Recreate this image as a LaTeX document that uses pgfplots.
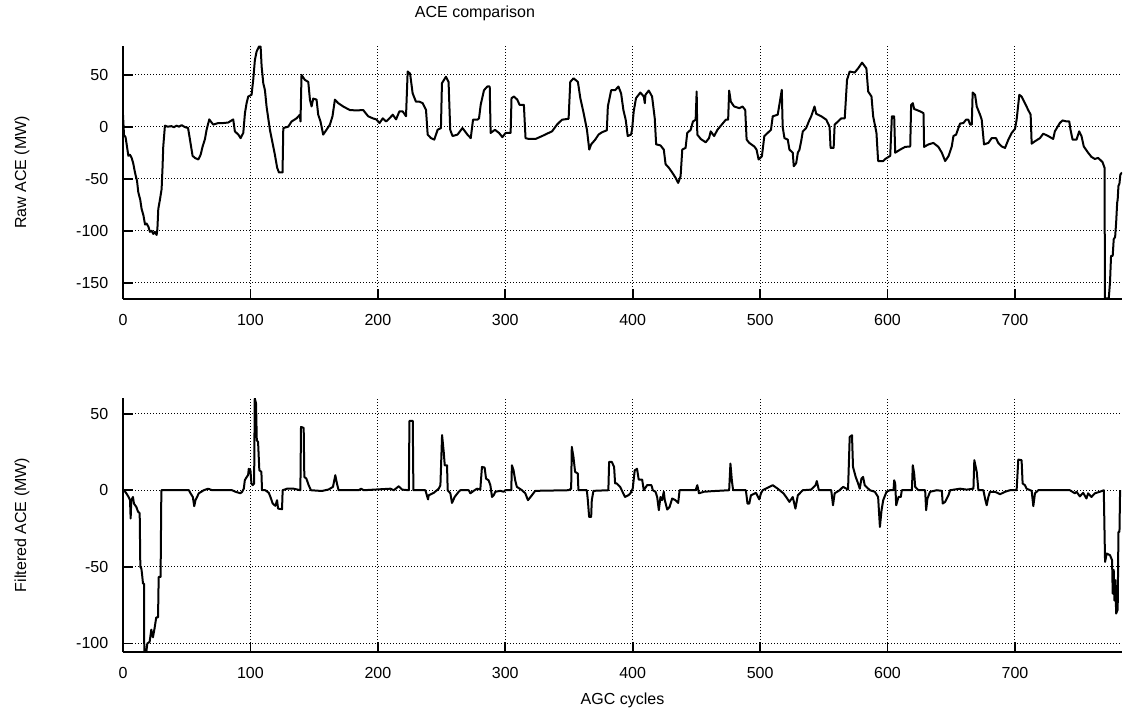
\documentclass[border=0pt]{standalone}
\usepackage{fontspec}
\setmainfont{Liberation Sans}
\usepackage{pgfplots}
\pgfplotsset{compat=1.18}

% raw and filtered ACE
\pgfplotsset{
  aceaxis/.style={
    scale only axis, width=499.5pt,
    xmin=0, xmax=784,
    xtick={0,100,...,700},
    axis x line*=bottom, axis y line*=left,
    axis line style={line width=1pt, black},
    tick align=inside, major tick length=5pt,
    tick style={line width=0.9pt, black},
    grid=major,
    grid style={black, line width=0.5pt, dash pattern=on 0.5pt off 1pt},
    /pgf/number format/assume math mode=true,
    xticklabel style={yshift=-5pt},
    yticklabel style={xshift=-4.5pt},
    ylabel style={at={(axis description cs:-0.1011,0.5)}, anchor=center},
  },
  aceline/.style={black, line width=1pt, line join=round, mark=none},
}

\begin{document}
\fontsize{8}{9.6}\selectfont
\begin{tikzpicture}
\useasboundingbox (0pt,0pt) rectangle (561.5pt,-357.5pt);

\begin{axis}[aceaxis, at={(61.5pt,-149.5pt)}, anchor=south west,
    height=126.5pt, ymin=-165.5, ymax=77.5,
    ytick={-150,-100,-50,0,50},
    ylabel={Raw ACE (MW)}]
\addplot[aceline] coordinates {
(0,11) (0.8,-8) (2,-10) (3,-18) (4.2,-28) (5.5,-27) (6.8,-30) (8,-35) (9.4,-44)
(11,-52) (12,-63) (13.5,-70) (14.6,-79) (16,-85) (17.3,-94) (18.5,-93) (19.9,-96)
(21.2,-101) (22.5,-100) (23.8,-103) (25,-101) (26.4,-104) (27,-98) (27.7,-79)
(29,-70) (30.3,-60) (31,-40) (31.6,-19) (32.9,1) (35,0) (38,0.5) (40,-0.5) (42,1)
(44,0) (46,1.5) (48,0) (50,-1) (51,-1)
(52.5,-12) (54.6,-28) (56.5,-30) (59.1,-31.5) (60.9,-27) (62.5,-19) (64.3,-12)
(65.6,-3) (67.7,7) (70.8,2) (74.8,3.5) (78.7,3.5) (82.6,4) (86.5,7) (87.8,-4.5)
(90.5,-7.6) (92.3,-11) (94.4,-6) (95.7,13) (97,22.6) (98.3,29) (100.9,30.6)
(102.2,45) (103.5,64) (104.8,72) (106.7,77) (108,77) (108.8,57.7) (110.1,41.7)
(111.4,35) (112.7,19) (115.3,-3) (117.9,-19) (119.2,-27) (121,-39.5) (122.4,-44)
(125.2,-44) (125.8,-1.3) (129.7,0) (132.3,5) (136.2,8) (138.8,11.5) (139.3,5)
(140.1,49.7) (142.7,45) (145.4,43) (146.7,26) (148,19.4) (149.3,27) (151.9,26)
(153.2,11.5) (155,5) (157.1,-7.6) (159.7,-3) (162.4,2) (164.4,10) (166.3,26)
(168.9,22.6) (172.8,19.4) (178,16) (183.3,15.6) (188.5,16) (192.4,10)
(196.1,8) (198.7,7) (201.3,3.5) (203.9,8) (206.5,5) (209.1,8) (211.7,11.5)
(214.3,7) (216.9,14.7) (219.5,14.7) (222.1,10) (223.4,53) (225.3,51) (227.3,32)
(229.9,24) (232.6,24) (235.2,22.6) (237.8,16) (239.1,-7.6) (241.7,-11)
(244.3,-12.4) (246.9,-3) (249.5,-1.3) (250.3,41.7) (253.4,48) (255.5,43)
(256.8,-3) (258.6,-9) (262.5,-7.6) (266.4,-1.3) (270.3,-7.6) (272.9,-11)
(274.7,6.7) (278.1,6.7) (279.4,8) (280.7,21) (283.3,35) (285.9,38.6) (287.8,38.6)
(288.5,-6) (291.9,-3) (295.1,-6) (297.7,-10) (300.3,-6) (304.2,-6) (304.9,27.4)
(306.8,29) (309.4,26) (311.2,21) (314.6,21) (315.9,-11) (318.5,-11.8)
(323.7,-11.8) (328.9,-9) (332.8,-6.7) (336.7,-4.5) (340.6,2) (344.5,6.7)
(349.7,7.6) (351,43) (353.6,46.5) (357,43) (358.9,27.4) (361.5,13) (364.1,-3)
(365.9,-22) (367.4,-17) (370.6,-12.4) (373.2,-7.6) (375.8,-5.4) (379.7,-3.5)
(380.5,19.4) (383.1,35) (386.2,35) (388.8,38.6) (390.9,32) (392.7,16) (394.5,6.7)
(396.1,-9) (398.7,-7.6)
(399.5,-3) (400.8,14.7) (402.6,27.4) (406,32.8) (408.7,29) (409.5,22.6) (410,30.6)
(412.6,34.7) (415.2,29) (417.3,8) (418.4,-17) (421.8,-18) (424.4,-22) (425.8,-36)
(428.4,-39.5) (431,-44) (433.6,-49) (435.7,-54) (437.6,-47.5) (438.9,-22)
(441.5,-20.4) (442.8,-6) (445.5,-3) (447.3,5) (449.4,6.7) (450.2,33.8)
(450.7,-7.6) (453.4,-11.8) (457.3,-15) (459.9,-11) (461.2,-4.5) (463.9,-9)
(466.5,-3) (469.9,2) (473.1,6.7) (474.9,6.7) (475.7,34.7) (477,24) (479.6,19.4)
(483.6,17.8) (486.2,19.4) (488.3,16) (489.4,-12.4) (491.5,-15.6) (495.4,-19)
(497.2,-22) (498.8,-31.5) (501.4,-28.4) (503.3,-9) (505.9,-6) (508.5,-3)
(509.9,10) (513.8,11.5) (515.1,21) (517,35.4) (517.7,-0.3) (519.1,-11)
(521.7,-12.4) (523,-22) (525.6,-25) (526.4,-38) (528.3,-35) (529.6,-25)
(530.9,-22) (532.2,-14) (533.5,-4.5) (536.1,-1.3) (538.8,6.7) (540.1,10)
(542.7,19.4) (544,12.4) (548,10) (551.9,6.7) (554.5,0) (555.3,-20.4)
(557.7,-20.4) (558.5,2) (561.1,5) (563.7,8) (566.4,8) (568.2,45) (570.3,53)
(574.2,52) (576.9,56) (580,61.5) (583.4,56) (584.8,33.8) (587.4,29) (588.7,10)
(591.3,-6) (592.6,-33) (596.6,-33)
(598.2,-31) (602.1,-28) (603.4,10) (605.2,10) (606,-25) (609.9,-22)
(613.8,-19.4) (617.8,-19) (618.5,21) (619.8,22.6) (620.9,17) (625.6,14.7)
(628.2,13) (628.7,-19.4) (632.1,-17) (636,-15.6) (639.9,-19.4) (642.6,-25)
(645.2,-33) (647.8,-28.4) (650.4,-19) (651.7,-9) (653.8,-7.6) (655.6,-1.3)
(656.9,3) (659.5,3.5) (661.6,6.7) (663.4,6.7) (664.8,2) (666.1,2) (666.8,32.8)
(668.7,30.6) (670,19.4) (672.6,11.5) (673.9,6.7) (675.7,-17) (679.1,-15.6)
(681.7,-11) (685.1,-11) (686.9,-15.6) (689.6,-19) (692.2,-20.4) (694.8,-12.4)
(697.4,-6) (700,-2.2) (701.3,6.7) (703.4,30.6) (705.2,29) (707.8,22.6)
(710.4,16) (712.3,11.5) (713.1,-16.3) (715.7,-14) (719.6,-11) (722.2,-6.7)
(726.1,-9) (730,-11.8) (731.3,-4.5) (735.2,3.5) (737.3,6) (740.5,5) (742.6,5)
(743.6,-3) (745.2,-12.4) (748.3,-12.4) (750.4,-4.5) (752.2,-9) (754,-19)
(757.4,-25) (760,-29) (762.7,-31) (765.3,-30) (768.7,-34) (770.3,-39.5)
(770.6,-165) (773.6,-165) (774.6,-149) (775.4,-124) (776.7,-124) (777.5,-108)
(778.6,-106) (779.4,-92) (780.2,-73) (780.6,-70) (781.2,-57) (782,-54.5)
(782.7,-46) (784,-44)
};
\end{axis}

\begin{axis}[aceaxis, at={(61.5pt,-326pt)}, anchor=south west,
    height=127pt, ymin=-105.6, ymax=60.2,
    ytick={-100,-50,0,50},
    ylabel={Filtered ACE (MW)},
    xlabel={AGC cycles},
    xlabel style={at={(axis description cs:0.5,-0.189)}, anchor=center}]
\addplot[aceline] coordinates {
(0,0) (0.8,0) (2.6,-2) (4.4,-4.4) (5.5,-6.5) (6,-18.5) (6.5,-6.5) (7.8,-4.4)
(8.6,-8.7) (10.5,-11) (11.8,-14) (13.1,-15) (13.6,-50) (14.4,-51) (14.9,-54.4)
(15.7,-61) (16.5,-61) (16.7,-105.6) (18.3,-105.6) (19.1,-100) (20.9,-99)
(22.2,-91) (23.5,-96) (24.8,-90) (26.1,-83) (27.5,-83) (28,-56.6) (29.5,-56.6)
(30.1,0) (51.7,0) (53,-2) (54.8,-4.4) (55.9,-10.4) (56.9,-6.5) (59.5,-2)
(63.4,0) (66.8,1) (70,0) (85.6,0) (88.3,-1) (92.2,-2) (93.5,-1) (94.8,1)
(95.6,6.5) (96.6,8) (98.2,10) (98.7,14) (100,13) (100.8,4.4) (101.8,3.3)
(102.9,4.4) (103.4,60) (104.4,56.6) (105,32.6) (106,31.5) (107,13) (108.6,12)
(109.1,0) (111.7,0) (114.4,-1.7) (115.7,-4.4) (117.5,-8.7) (119.6,-10.2)
(120.9,-6.5) (121.7,-12) (124.8,-12.4) (125.3,0) (128.7,1) (133.9,1) (139.2,0)
(139.7,41.3) (141.8,40.7) (142.3,8.7) (143.9,7.6) (145.7,3.3) (147.5,0)
(156.1,-0.5) (161.4,0.5) (164.8,2.2) (166.6,9.8) (167.9,4.4) (169.2,0)
(184.9,0) (186.9,1) (188.8,0)
(209.9,1) (212.5,0) (216.4,2.6) (219.1,0.4) (224.3,0) (224.8,45.3) (227.4,45.3)
(227.9,0) (237.3,0) (239.4,-6) (239.9,-3.3) (243.9,-1.7) (247.8,1) (249.1,3.3)
(250.4,36) (251.7,25) (252.5,16.3) (254.3,16.3) (254.8,0) (256.9,-2)
(258.2,-8.3) (260.3,-4.4) (263.4,-1) (264.8,0) (271.3,0) (272.6,-2)
(275.2,-0.4) (277.8,1) (280.4,0.4) (281.7,15.2) (283.8,14.8) (284.9,7.6)
(286.9,6.5) (288.3,3.3) (289.6,-4.4) (290.9,-3.3) (292.2,-1) (296.1,-0.4)
(298.7,-1) (300,0) (304.7,0) (305.2,16.3) (306.5,13) (307.8,6.5) (309.1,2.2)
(313.1,0) (315.7,-2) (317.8,-6.5) (320.9,-3.3) (323.5,-0.4) (349.6,0)
(351.7,1) (352.2,28.3) (353.5,21.8) (354.8,12) (356.9,10.9) (357.4,0) (364,0)
(364.8,-6.5) (365.8,-17.4) (367.4,-17.4) (367.9,-6.5) (369.2,-0.4) (380.9,0)
(381.5,18.5) (383.6,18.5) (385.4,15.2) (386.2,4.4) (387.5,4.4) (390.1,2.2)
(391.4,0) (394,-4.4) (396.6,-3.3)
(398.2,-2) (400,1) (401.6,13) (403.4,14) (404.7,7) (407.4,7) (408.7,0)
(411.3,3.3) (414.7,3.3) (415.8,0) (417.9,-1) (419.2,-4.4) (420.5,-13)
(421.8,-4.4) (423.1,-6.5) (424.4,-1) (425.2,-6.5) (427.1,-12.6) (428.9,-11)
(431,-5.4) (433.6,-6.5) (435.7,-8.3) (436.8,0) (449.4,0) (450.7,3.3) (452,-2)
(456,-1) (462.5,-0.6) (475.7,0) (476.7,17.4) (477.8,6.5) (478.8,0) (488.8,0)
(490.1,-8.7) (491.5,-8.7) (492.8,-3.3) (496.7,-1.7) (499.3,-6) (500.7,-2)
(502,0) (509.9,3.3) (513.8,1) (518.3,-2) (520.4,-4.4) (523,-7.6) (525.6,-4.4)
(527.7,-12) (529.6,-3.3) (533.5,0) (540.1,0.4) (543.5,3.3) (544.5,6) (546.1,0)
(555.8,0) (557.2,-9.8) (558.5,-2) (562.4,0) (565.1,2.2) (569,0.4) (570.3,34.8)
(572.1,35.9) (572.9,15.2) (575,8.7) (576.9,4.4) (578.2,1) (579.5,7.6)
(580.8,8.7) (582.1,3.3) (583.4,2.2) (586.1,0) (590,-1) (592.6,-4.4) (594,-24)
(595.3,-13) (596.6,-6.5) (599.2,-1) (601.8,0)
(604.7,0) (605.2,6.5) (606,4.4) (606.8,-9.8) (608.6,-4.4) (610.4,-4.4)
(611.2,0) (619.1,0) (619.8,16.3) (620.9,10.9) (621.7,2.2) (624.3,0) (629.5,0)
(630.3,-13) (631.3,-5.4) (633.4,-1) (638.6,0) (642.6,-0.4) (643.3,-8.7)
(645.2,-7.6) (647.8,-3.3) (649.1,0) (656.9,1) (662.1,0.4) (667.4,1)
(668.1,19.6) (670,12) (671.3,0) (675.2,0) (676.5,-5.4) (677.8,-9.8)
(679.1,-4.4) (680.4,-1) (684.3,-1) (688.3,-2.6) (692.2,-1) (696.1,0)
(701.3,0) (702.6,20) (705.2,19.6) (706,4.4) (707.8,3.3) (709.1,1) (713.1,-0.4)
(714.4,-10.4) (715.7,-2) (718.3,0) (743.1,0) (747,-2) (748.3,-1) (750.9,-4)
(753.5,-1.7) (756.1,-5.4) (757.4,-2) (760,-4.4) (762.7,-2) (766.6,-1)
(769.7,0) (770.7,-46.8) (772,-41.3) (774.6,-42.4) (776.2,-45.7) (776.7,-67.5)
(777.5,-52) (778,-72) (778.8,-58.7) (779.4,-80.5) (780.6,-78) (781.2,-27.2)
(782,-27.2) (782.5,0)
};
\end{axis}

\node[anchor=center] at (237.5pt,-6.5pt) {ACE comparison};
\end{tikzpicture}
\end{document}
